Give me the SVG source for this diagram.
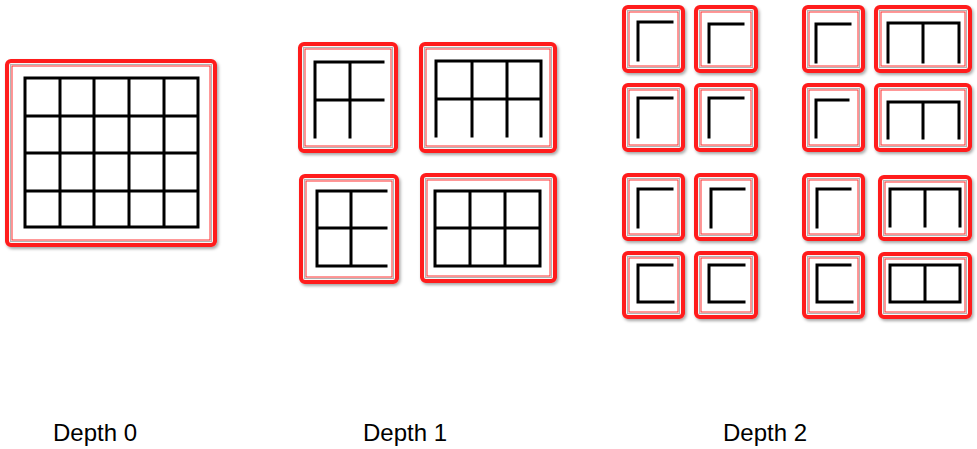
<svg xmlns="http://www.w3.org/2000/svg" width="977" height="449" viewBox="0 0 977 449">
<style>
  .o{fill:#fff;stroke:#ff1a1a;stroke-width:4;filter:url(#sh)}
  .g{fill:none;stroke:#b3b3b3;stroke-width:1.2}
  .i{fill:none;stroke:#ff3030;stroke-width:1}
  .ln{fill:none;stroke:#000;stroke-width:3;stroke-linecap:square;stroke-linejoin:miter}
  .lbl{font-family:"Liberation Sans",Arial,sans-serif;font-size:24px;fill:#000}
</style>
<defs>
  <filter id="sh" x="-10%" y="-10%" width="130%" height="130%">
    <feDropShadow dx="1.5" dy="2" stdDeviation="1.5" flood-color="#000" flood-opacity="0.35"/>
  </filter>
</defs>
<rect width="977" height="449" fill="#fff"/>

<g id="depth0">
  <rect class="o" x="7" y="61" width="208" height="184" rx="4"/>
  <rect class="g" x="10.5" y="64.5" width="201" height="177"/>
  <rect class="i" x="12" y="66" width="198" height="174"/>
  <path class="ln" d="M25,78 H198 M25,116 H198 M25,153 H198 M25,191 H198 M25,227 H198 M25,78 V227 M60,78 V227 M94,78 V227 M129,78 V227 M164,78 V227 M198,78 V227"/>
</g>

<g id="depth1-a">
  <rect class="o" x="300" y="44" width="96" height="107" rx="4"/>
  <rect class="g" x="303.5" y="47.5" width="89" height="100"/>
  <rect class="i" x="305" y="49" width="86" height="97"/>
  <path class="ln" d="M315,62 H383 M315,100 H383 M315,62 V137 M350,62 V137"/>
</g>
<g id="depth1-b">
  <rect class="o" x="421" y="44" width="134" height="107" rx="4"/>
  <rect class="g" x="424.5" y="47.5" width="127" height="100"/>
  <rect class="i" x="426" y="49" width="124" height="97"/>
  <path class="ln" d="M436,61 H541 M436,99 H541 M436,61 V136 M472,61 V136 M507,61 V136 M541,61 V136"/>
</g>
<g id="depth1-c">
  <rect class="o" x="301" y="176" width="96" height="106" rx="4"/>
  <rect class="g" x="304.5" y="179.5" width="89" height="99"/>
  <rect class="i" x="306" y="181" width="86" height="96"/>
  <path class="ln" d="M317,191 H386 M317,228 H386 M317,266 H386 M317,191 V266 M351,191 V266"/>
</g>
<g id="depth1-d">
  <rect class="o" x="422" y="175" width="133" height="106" rx="4"/>
  <rect class="g" x="425.5" y="178.5" width="126" height="99"/>
  <rect class="i" x="427" y="180" width="123" height="96"/>
  <path class="ln" d="M435,191 H540 M435,228 H540 M435,266 H540 M435,191 V266 M470,191 V266 M505,191 V266 M540,191 V266"/>
</g>

<g id="depth2-r1c1">
  <rect class="o" x="624" y="7" width="59" height="64" rx="4"/>
  <rect class="g" x="627.5" y="10.5" width="52" height="57"/>
  <rect class="i" x="629" y="12" width="49" height="54"/>
  <path class="ln" d="M672,22 H638 V60"/>
</g>
<g id="depth2-r1c2">
  <rect class="o" x="696" y="7" width="60" height="64" rx="4"/>
  <rect class="g" x="699.5" y="10.5" width="53" height="57"/>
  <rect class="i" x="701" y="12" width="50" height="54"/>
  <path class="ln" d="M743,24 H709 V62"/>
</g>
<g id="depth2-r1c3">
  <rect class="o" x="804" y="7" width="59" height="64" rx="4"/>
  <rect class="g" x="807.5" y="10.5" width="52" height="57"/>
  <rect class="i" x="809" y="12" width="49" height="54"/>
  <path class="ln" d="M850,24 H816 V62"/>
</g>
<g id="depth2-r1c4">
  <rect class="o" x="876" y="7" width="94" height="64" rx="4"/>
  <rect class="g" x="879.5" y="10.5" width="87" height="57"/>
  <rect class="i" x="881" y="12" width="84" height="54"/>
  <path class="ln" d="M888,62 V23 H959 V62 M923,23 V62"/>
</g>

<g id="depth2-r2c1">
  <rect class="o" x="624" y="85" width="59" height="65" rx="4"/>
  <rect class="g" x="627.5" y="88.5" width="52" height="58"/>
  <rect class="i" x="629" y="90" width="49" height="55"/>
  <path class="ln" d="M672,98 H638 V137"/>
</g>
<g id="depth2-r2c2">
  <rect class="o" x="696" y="85" width="60" height="65" rx="4"/>
  <rect class="g" x="699.5" y="88.5" width="53" height="58"/>
  <rect class="i" x="701" y="90" width="50" height="55"/>
  <path class="ln" d="M743,98 H709 V137"/>
</g>
<g id="depth2-r2c3">
  <rect class="o" x="804" y="85" width="59" height="65" rx="4"/>
  <rect class="g" x="807.5" y="88.5" width="52" height="58"/>
  <rect class="i" x="809" y="90" width="49" height="55"/>
  <path class="ln" d="M848,100 H816 V137"/>
</g>
<g id="depth2-r2c4">
  <rect class="o" x="876" y="85" width="94" height="65" rx="4"/>
  <rect class="g" x="879.5" y="88.5" width="87" height="58"/>
  <rect class="i" x="881" y="90" width="84" height="55"/>
  <path class="ln" d="M888,138 V102 H959 V138 M923,102 V138"/>
</g>

<g id="depth2-r3c1">
  <rect class="o" x="624" y="175" width="59" height="64" rx="4"/>
  <rect class="g" x="627.5" y="178.5" width="52" height="57"/>
  <rect class="i" x="629" y="180" width="49" height="54"/>
  <path class="ln" d="M672,189 H638 V227"/>
</g>
<g id="depth2-r3c2">
  <rect class="o" x="696" y="175" width="60" height="64" rx="4"/>
  <rect class="g" x="699.5" y="178.5" width="53" height="57"/>
  <rect class="i" x="701" y="180" width="50" height="54"/>
  <path class="ln" d="M744,189 H711 V227"/>
</g>
<g id="depth2-r3c3">
  <rect class="o" x="804" y="175" width="59" height="64" rx="4"/>
  <rect class="g" x="807.5" y="178.5" width="52" height="57"/>
  <rect class="i" x="809" y="180" width="49" height="54"/>
  <path class="ln" d="M850,189 H817 V227"/>
</g>
<g id="depth2-r3c4">
  <rect class="o" x="880" y="177" width="90" height="62" rx="4"/>
  <rect class="g" x="883.5" y="180.5" width="83" height="55"/>
  <rect class="i" x="885" y="182" width="80" height="52"/>
  <path class="ln" d="M890,226 V189 H960 V226 M925,189 V226"/>
</g>

<g id="depth2-r4c1">
  <rect class="o" x="624" y="253" width="59" height="64" rx="4"/>
  <rect class="g" x="627.5" y="256.5" width="52" height="57"/>
  <rect class="i" x="629" y="258" width="49" height="54"/>
  <path class="ln" d="M672,265 H638 V302 H673"/>
</g>
<g id="depth2-r4c2">
  <rect class="o" x="696" y="253" width="60" height="64" rx="4"/>
  <rect class="g" x="699.5" y="256.5" width="53" height="57"/>
  <rect class="i" x="701" y="258" width="50" height="54"/>
  <path class="ln" d="M744,265 H709 V302 H744"/>
</g>
<g id="depth2-r4c3">
  <rect class="o" x="804" y="253" width="59" height="64" rx="4"/>
  <rect class="g" x="807.5" y="256.5" width="52" height="57"/>
  <rect class="i" x="809" y="258" width="49" height="54"/>
  <path class="ln" d="M850,265 H817 V302 H852"/>
</g>
<g id="depth2-r4c4">
  <rect class="o" x="880" y="254" width="90" height="63" rx="4"/>
  <rect class="g" x="883.5" y="257.5" width="83" height="56"/>
  <rect class="i" x="885" y="259" width="80" height="53"/>
  <path class="ln" d="M890,265 H960 V302 H890 Z M925,265 V302"/>
</g>

<g id="connectors"></g>

<g id="labels">
  <text class="lbl" x="53" y="441">Depth 0</text>
  <text class="lbl" x="363" y="441">Depth 1</text>
  <text class="lbl" x="723" y="441">Depth 2</text>
</g>
</svg>
